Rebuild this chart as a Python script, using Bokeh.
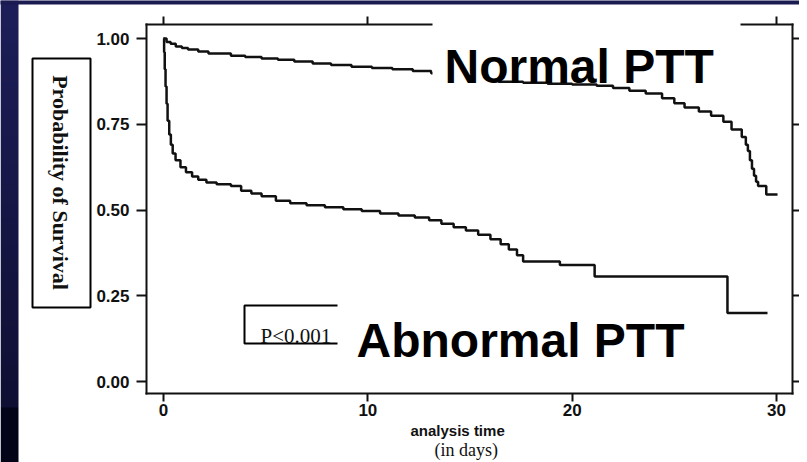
import math
import numpy as np
from bokeh.plotting import figure
from bokeh.models import Label, BoxAnnotation, FixedTicker, LinearAxis, Range1d, NumeralTickFormatter
from bokeh.embed import file_html
from bokeh.resources import INLINE

# ---- data ----
x_ticks = [0, 10, 20, 30]
y_ticks = [0.0, 0.25, 0.5, 0.75, 1.0]

normal_t = [0, 0.15, 0.35, 0.6, 0.9, 1.2, 1.7, 2.2, 3.3, 4.0, 4.8, 5.6, 6.4, 7.3, 8.2, 9.2,
            10.2, 11.2, 12.2, 13.1, 14.2, 15.3, 16.4, 17.6, 18.8, 20.0, 21.2, 22.0, 22.8,
            23.6, 24.4, 25.0, 25.5, 26.2, 26.8, 27.4, 27.8, 28.3, 28.5, 28.6, 28.7, 28.8,
            28.9, 29.0, 29.1, 29.5, 30.05]
normal_s = [1.00, 0.990, 0.985, 0.977, 0.972, 0.968, 0.962, 0.956, 0.950, 0.946, 0.942,
            0.938, 0.933, 0.927, 0.923, 0.918, 0.914, 0.910, 0.905, 0.899, 0.893, 0.889,
            0.874, 0.871, 0.868, 0.866, 0.862, 0.856, 0.848, 0.840, 0.826, 0.811, 0.799,
            0.787, 0.775, 0.757, 0.735, 0.713, 0.690, 0.672, 0.645, 0.620, 0.600, 0.582,
            0.570, 0.545, 0.545]

abn_t = [0, 0.03, 0.06, 0.1, 0.15, 0.2, 0.28, 0.36, 0.45, 0.59, 0.83, 1.1, 1.4, 1.7, 2.1,
         2.6, 3.3, 3.8, 4.3, 4.8, 5.5, 6.2, 7.0, 7.9, 8.8, 9.7, 10.6, 11.5, 12.3, 13.0,
         13.6, 14.2, 14.8, 15.4, 16.0, 16.5, 16.9, 17.3, 17.6, 19.4, 21.1, 27.6, 29.56]
abn_s = [1.00, 0.96, 0.91, 0.86, 0.81, 0.76, 0.72, 0.69, 0.665, 0.645, 0.625, 0.61, 0.598,
         0.588, 0.580, 0.575, 0.570, 0.556, 0.548, 0.540, 0.527, 0.520, 0.514, 0.508,
         0.502, 0.497, 0.490, 0.484, 0.478, 0.470, 0.460, 0.450, 0.440, 0.428, 0.415,
         0.400, 0.385, 0.368, 0.350, 0.340, 0.306, 0.200, 0.200]

INK = "#111111"

# ---- geometry: 1 day = 20.433 px, 1.0 survival = 343 px; t=0 at px 163, S=0 at px 381 ----
W, H = 799, 462
PX_DAY, PX_UNIT, X0PX, Y0PX = 20.433, 343.0, 163.0, 381.0


def dx(px):
    return (px - X0PX) / PX_DAY


def dy(py):
    return (Y0PX - py) / PX_UNIT


FL, FR, FT, FB = dx(146), dx(792), dy(24), dy(393)

p = figure(width=W, height=H,
           x_range=Range1d(dx(0), dx(W)), y_range=Range1d(dy(H), dy(0)),
           x_axis_location=None, y_axis_location=None,
           output_backend="svg", toolbar_location=None, min_border=0)
p.background_fill_color = "white"
p.border_fill_color = "white"
p.outline_line_color = None
p.grid.visible = False

# dark slide band on the left: vertical gradient, darker block at the bottom
rows = np.arange(H)[::-1]            # image row 0 is the bottom pixel row
frac = np.clip(rows / 407.0, 0, 1)
r = np.where(rows < 407, 0x1e + (0x0f - 0x1e) * frac, 0x04)
g = r
b = np.where(rows < 407, 0x5a + (0x34 - 0x5a) * frac, 0x19)
rgba = (255 << 24) | (b.astype(np.uint32) << 16) | (g.astype(np.uint32) << 8) | r.astype(np.uint32)
band_img = rgba.astype(np.uint32).reshape(H, 1)
p.image_rgba(image=[band_img], x=dx(0), y=dy(H), dw=dx(18) - dx(0), dh=dy(0) - dy(H))


def make_axis(ticks, loc, bounds, tick_out, show_labels, font_size="17px", standoff=0):
    ax = LinearAxis(ticker=FixedTicker(ticks=ticks), fixed_location=loc, bounds=bounds,
                    axis_line_width=2, axis_line_color=INK, axis_line_cap="square",
                    major_tick_line_width=2, major_tick_line_color=INK,
                    major_tick_out=tick_out, major_tick_in=0, minor_tick_line_color=None,
                    major_label_standoff=standoff)
    if show_labels:
        ax.major_label_text_font = "Liberation Sans"
        ax.major_label_text_font_style = "bold"
        ax.major_label_text_font_size = font_size
        ax.major_label_text_color = INK
    else:
        ax.major_label_text_font_size = "1px"
        ax.major_label_text_alpha = 0
    return ax


bottom = make_axis(x_ticks, FB, (FL, FR), 8, True, "17px", 2)
left = make_axis(y_ticks, FL, (FB, FT), 10, True, "17px", 7)
left.formatter = NumeralTickFormatter(format="0.00")
top = make_axis(x_ticks, FT, (FL, FR), 8, False)
right = make_axis(y_ticks, FR, (FB, FT), 8, False)
p.add_layout(bottom, "below")
p.add_layout(left, "left")
p.add_layout(top, "above")
p.add_layout(right, "right")

# survival curves
p.step(normal_t, normal_s, mode="after", line_width=2.5, line_color=INK)
p.step(abn_t, abn_s, mode="after", line_width=2.5, line_color=INK)

# y-axis title box
p.add_layout(BoxAnnotation(left=dx(32), right=dx(90), top=dy(58), bottom=dy(307),
                           fill_color="white", fill_alpha=1, line_color="black", line_width=2,
                           line_alpha=1, level="overlay"))
p.add_layout(Label(x=dx(60), y=dy(182), text="Probability of Survival", angle=-math.pi / 2,
                   text_align="center", text_baseline="middle", text_font="Liberation Serif",
                   text_font_style="bold", text_font_size="22px", text_color=INK,
                   level="overlay"))

# P-value box
p.add_layout(BoxAnnotation(left=dx(244), right=dx(350), top=dy(305), bottom=dy(343),
                           fill_color="white", fill_alpha=1, line_color="black", line_width=2,
                           line_alpha=1, level="overlay"))
p.add_layout(Label(x=dx(260), y=dy(335), text="P<0.001", text_align="left",
                   text_baseline="alphabetic", text_font="Liberation Serif",
                   text_font_size="21px", text_color=INK, level="overlay"))

# white patches behind the big labels
p.add_layout(BoxAnnotation(left=dx(432), right=dx(740), top=dy(0), bottom=0.885,
                           fill_color="white", fill_alpha=1, line_color=None, level="overlay"))
p.add_layout(BoxAnnotation(left=dx(337), right=dx(700), top=dy(290), bottom=dy(352),
                           fill_color="white", fill_alpha=1, line_color=None, level="overlay"))

p.add_layout(Label(x=dx(444), y=dy(66), text="Normal PTT", text_align="left",
                   text_baseline="alphabetic", text_font="Liberation Sans",
                   text_font_style="bold", text_font_size="48px", text_color="black",
                   level="overlay"))
p.add_layout(Label(x=dx(356), y=dy(340), text="Abnormal PTT", text_align="left",
                   text_baseline="alphabetic", text_font="Liberation Sans",
                   text_font_style="bold", text_font_size="48px", text_color="black",
                   level="overlay"))

# x-axis title (two lines)
p.add_layout(Label(x=dx(410), y=dy(430), text="analysis time", text_align="left",
                   text_baseline="alphabetic", text_font="Liberation Sans",
                   text_font_style="bold", text_font_size="15px", text_color=INK,
                   level="overlay"))
p.add_layout(Label(x=dx(434), y=dy(449), text="(in days)", text_align="left",
                   text_baseline="alphabetic", text_font="Liberation Serif",
                   text_font_size="18px", text_color=INK, level="overlay"))

# dark slide frame: top strip
p.add_layout(BoxAnnotation(left=dx(-5), right=dx(W + 5), top=dy(-5), bottom=dy(4),
                           fill_color="#1b1b52", fill_alpha=1, line_color=None, level="overlay"))

open("out.html", "w").write(file_html(p, INLINE))
